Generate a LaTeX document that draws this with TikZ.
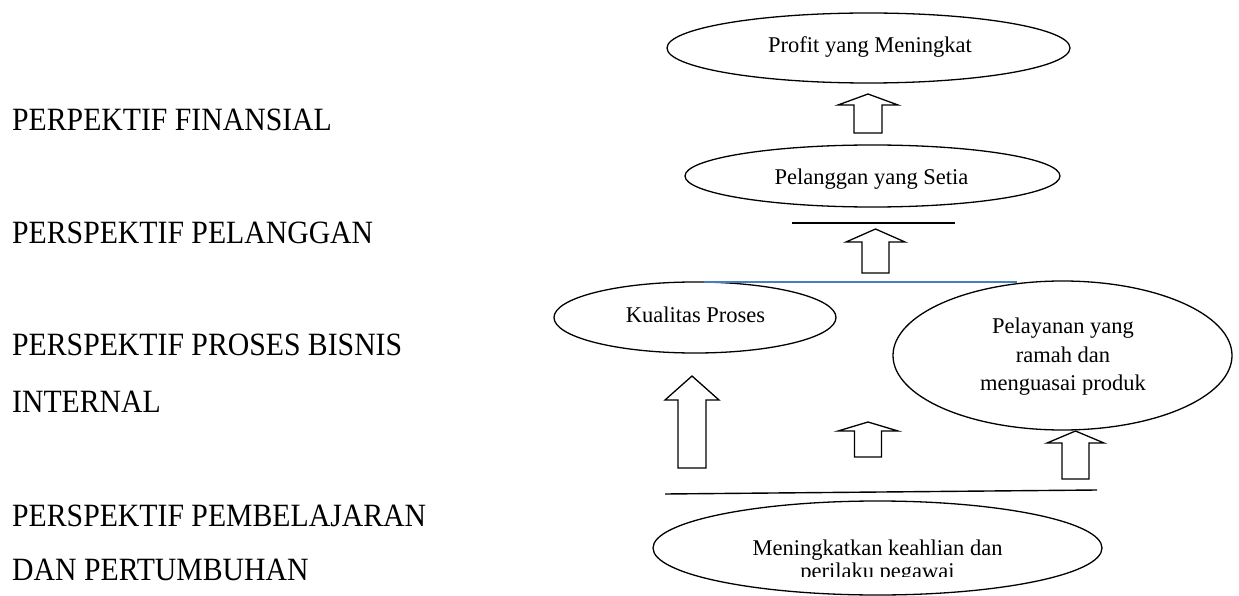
\documentclass[tikz,border=0pt]{standalone}
\usepackage{fontspec}
\setmainfont{Liberation Serif}
\usetikzlibrary{shapes.geometric}
\definecolor{wordblue}{RGB}{74,126,187}
\tikzset{
  ell/.style={draw, ellipse, line width=1.3pt, inner sep=0pt},
  etext/.style={inner sep=0pt, anchor=base, font=\fontsize{22.5}{27}\selectfont},
  ptext/.style={inner sep=0pt, anchor=base west, font=\fontsize{32.5}{38}\selectfont},
  barrow/.style={draw, line width=1.3pt, line join=miter, fill=white},
  sepline/.style={line width=1.4pt},
}
\newcommand\blockarr[6]{\draw[barrow] (#1,#2) -- (#1+#4,#3) -- (#1+#5,#3) -- (#1+#5,#6) -- (#1-#5,#6) -- (#1-#5,#3) -- (#1-#4,#3) -- cycle;}
\newcommand\narrowtxt[1]{\scalebox{0.915}[1]{#1}}
\begin{document}
\begin{tikzpicture}[x=1pt,y=-1pt]
\useasboundingbox (0,0) rectangle (1239,596);
\fill[white] (0,0) rectangle (1239,596);

% left labels
\node[ptext] (l1) at (12,131) {\narrowtxt{PERPEKTIF FINANSIAL}};
\node[ptext] (l2) at (12,243) {\narrowtxt{PERSPEKTIF PELANGGAN}};
\node[ptext] (l3) at (12,355) {\narrowtxt{PERSPEKTIF PROSES BISNIS}};
\node[ptext] (l4) at (12,412) {\narrowtxt{INTERNAL}};
\node[ptext] (l5) at (12,526) {\narrowtxt{PERSPEKTIF PEMBELAJARAN}};
\node[ptext] (l6) at (12,580) {\narrowtxt{DAN PERTUMBUHAN}};

% ellipses
\node[ell, minimum width=403pt, minimum height=70pt] (profit) at (868.5,48) {};
\node[etext] (profitT) at (870,53) {Profit yang Meningkat};

\node[ell, minimum width=375pt, minimum height=62pt] (pelanggan) at (872.5,176) {};
\node[etext] (pelangganT) at (871.5,185) {Pelanggan yang Setia};

\node[ell, minimum width=282pt, minimum height=71pt] (kualitas) at (695,317.5) {};
\node[etext] (kualitasT) at (695.5,322) {Kualitas Proses};

\node[ell, minimum width=339pt, minimum height=149pt] (pelayanan) at (1062.5,355.5) {};
\node[etext] (pelayananA) at (1063,333) {Pelayanan yang};
\node[etext] (pelayananB) at (1063,362) {ramah dan};
\node[etext] (pelayananC) at (1063,390) {menguasai produk};

\node[ell, minimum width=449pt, minimum height=94pt] (ahli) at (877.5,548) {};
\begin{scope}
\clip (640,500) rectangle (1110,576.5);
\node[etext] (ahliA) at (877.5,555) {Meningkatkan keahlian dan};
\node[etext] (ahliB) at (877.5,578) {perilaku pegawai};
\end{scope}

% separator lines
\coordinate (t1) at (792,223); \coordinate (t2) at (955,223);
\draw[sepline] (t1) -- (t2);
\coordinate (b1) at (704,282); \coordinate (b2) at (1017,282);
\draw[sepline, wordblue] (b1) -- (b2);
\coordinate (g1) at (665,494); \coordinate (g2) at (1097,490);
\draw[sepline] (g1) -- (g2);

% block arrows
\blockarr{868}{94}{105}{30}{14}{133}
\blockarr{875.5}{229}{242}{29.5}{13.5}{273}
\blockarr{692}{376}{400}{27}{14}{468}
\blockarr{868}{422}{431}{30}{13.5}{457}
\blockarr{1075.5}{431}{443}{28.5}{13.5}{479}
\end{tikzpicture}
\end{document}
